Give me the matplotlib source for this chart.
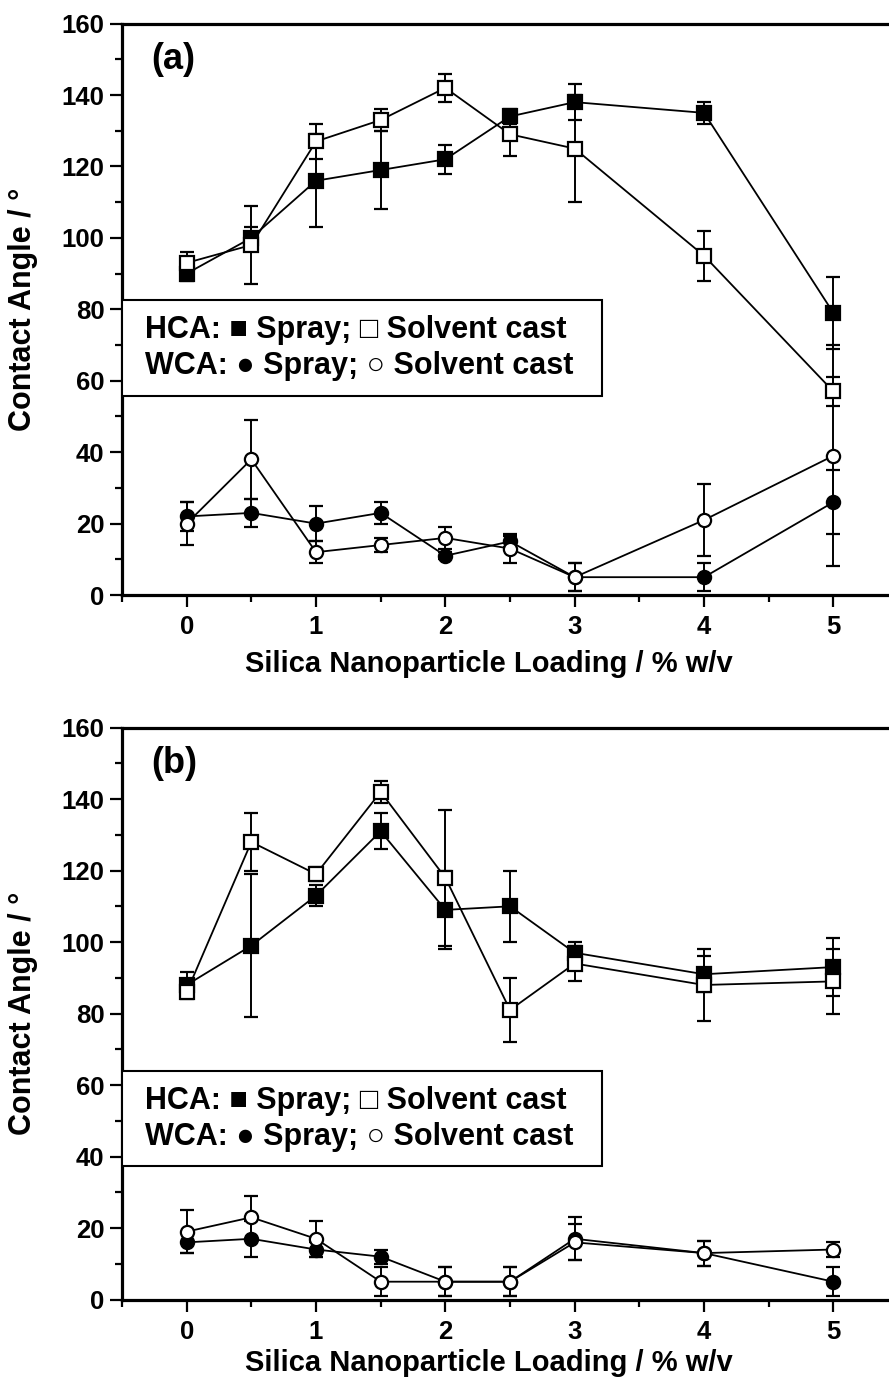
import numpy as np
import matplotlib
matplotlib.use('Agg')
import matplotlib.pyplot as plt
from matplotlib.patches import Rectangle
from matplotlib.ticker import MultipleLocator

plt.rcParams['font.family'] = ['Liberation Sans', 'DejaVu Sans']
plt.rcParams['font.weight'] = 'bold'

# silica loading (% w/v)
loading = [0, 0.5, 1, 1.5, 2, 2.5, 3, 4, 5]

# panel (a)
hca_spray_a = [90, 100, 116, 119, 122, 134, 138, 135, 79]
hca_spray_a_err = [2, 3, 13, 11, 4, 2, 5, 3, 10]
hca_cast_a = [93, 98, 127, 133, 142, 129, 125, 95, 57]
hca_cast_a_err = [3, 11, 5, 3, 4, 6, 15, 7, 4]
wca_spray_a = [22, 23, 20, 23, 11, 15, 5, 5, 26]
wca_spray_a_err = [4, 4, 5, 3, 1, 1.5, 4, 4, 9]
wca_cast_a = [20, 38, 12, 14, 16, 13, 5, 21, 39]
wca_cast_a_err = [6, 11, 3, 2, 3, 4, 4, 10, 31]

# panel (b)
hca_spray_b = [88, 99, 113, 131, 109, 110, 97, 91, 93]
hca_spray_b_err = [3.5, 20, 3, 5, 11, 10, 3, 5, 8]
hca_cast_b = [86, 128, 119, 142, 118, 81, 94, 88, 89]
hca_cast_b_err = [2, 8, 2, 3, 19, 9, 5, 10, 9]
wca_spray_b = [16, 17, 14, 12, 5, 5, 17, 13, 5]
wca_spray_b_err = [3, 5, 2, 2, 4, 4, 6, 3.5, 4]
wca_cast_b = [19, 23, 17, 5, 5, 5, 16, 13, 14]
wca_cast_b_err = [6, 6, 5, 4, 4, 4, 5, 3.5, 2]

x_ticks = [0, 1, 2, 3, 4, 5]
y_ticks = [0, 20, 40, 60, 80, 100, 120, 140, 160]

legend_row1 = "HCA: \u25a0 Spray; \u25a1 Solvent cast"
legend_row2 = "WCA: \u25cf Spray; \u25cb Solvent cast"


def draw_series(ax, y, err, marker, filled):
    ax.errorbar(loading, y, yerr=err, color='k', lw=1.3, marker=marker,
                ms=9.5, mfc='k' if filled else 'white', mec='k', mew=1.6,
                elinewidth=1.4, capsize=5, capthick=1.4, zorder=3)


def style_panel(ax, letter, leg_top, leg_bottom, xlab_y):
    ax.set_xlim(-0.5, 5.5)
    ax.set_ylim(0, 160)
    ax.set_xticks(x_ticks)
    ax.set_yticks(y_ticks)
    ax.xaxis.set_minor_locator(MultipleLocator(0.5))
    ax.yaxis.set_minor_locator(MultipleLocator(10))
    ax.tick_params(which='major', direction='out', length=8.5, width=1.6,
                   labelsize=18.5)
    ax.tick_params(axis='x', which='major', pad=6)
    ax.tick_params(axis='y', which='major', pad=4)
    ax.tick_params(which='minor', direction='out', length=5, width=1.6)
    for sp in ax.spines.values():
        sp.set_linewidth(2.3)
    ax.set_xlabel('Silica Nanoparticle Loading / % w/v', fontsize=21,
                  fontweight='bold')
    ax.set_ylabel('Contact Angle / \u00b0', fontsize=22, fontweight='bold')
    ax.xaxis.set_label_coords(0.473, xlab_y)
    ax.yaxis.set_label_coords(-0.108, 0.5)
    ax.text(0.038, 0.938, letter, transform=ax.transAxes, fontsize=26,
            fontweight='bold', va='center', ha='left')
    # text legend in a box
    tr = ax.get_yaxis_transform()
    ax.add_patch(Rectangle((0, leg_bottom), 0.618, leg_top - leg_bottom,
                           transform=tr, facecolor='white', edgecolor='k',
                           lw=1.5, zorder=5))
    h = leg_top - leg_bottom
    ax.text(0.0296, leg_top - 0.31 * h, legend_row1, transform=tr,
            fontsize=22, fontweight='bold', va='center', zorder=6)
    ax.text(0.0296, leg_top - 0.69 * h, legend_row2, transform=tr,
            fontsize=22, fontweight='bold', va='center', zorder=6)


fig = plt.figure(figsize=(8.89, 13.79), dpi=100)
ax_a = fig.add_axes([0.1372, 0.5685, 0.873, 0.4144])
ax_b = fig.add_axes([0.1372, 0.0576, 0.873, 0.4148])

draw_series(ax_a, hca_spray_a, hca_spray_a_err, 's', True)
draw_series(ax_a, hca_cast_a, hca_cast_a_err, 's', False)
draw_series(ax_a, wca_spray_a, wca_spray_a_err, 'o', True)
draw_series(ax_a, wca_cast_a, wca_cast_a_err, 'o', False)
style_panel(ax_a, '(a)', 82.5, 55.8, -0.096)

draw_series(ax_b, hca_spray_b, hca_spray_b_err, 's', True)
draw_series(ax_b, hca_cast_b, hca_cast_b_err, 's', False)
draw_series(ax_b, wca_spray_b, wca_spray_b_err, 'o', True)
draw_series(ax_b, wca_cast_b, wca_cast_b_err, 'o', False)
style_panel(ax_b, '(b)', 63.9, 37.3, -0.087)

fig.savefig('out.png', dpi=100)
